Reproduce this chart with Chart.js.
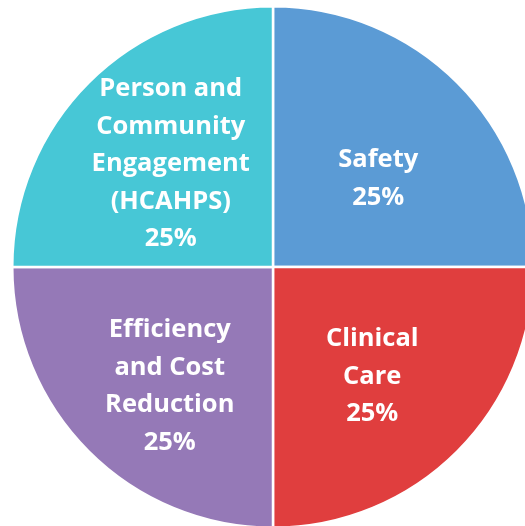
<!DOCTYPE html>
<html>
<head>
<meta charset="utf-8">
<script src="https://cdn.jsdelivr.net/npm/chart.js@4.4.1/dist/chart.umd.min.js"></script>
<style>
  html, body { margin: 0; padding: 0; background: #ffffff; overflow: hidden; width: 525px; height: 526px; }
  #wrap { position: absolute; left: 0; top: 5px; width: 546px; height: 524px; }
</style>
</head>
<body>
<div id="wrap"><canvas id="c"></canvas></div>
<script>
const categories = ["Safety", "Clinical Care", "Efficiency and Cost Reduction", "Person and Community Engagement (HCAHPS)"];
const labelLines = [
  ["Safety", "25%"],
  ["Clinical", "Care", "25%"],
  ["Efficiency", "and Cost", "Reduction", "25%"],
  ["Person and", "Community", "Engagement", "(HCAHPS)", "25%"]
];
const values = [25, 25, 25, 25];
const colors = ["#5B9BD5", "#E03E3E", "#9579B7", "#47C7D6"];
// label nudges (style only)
const labelNudge = [[2, 15], [-4, 6], [0, 16], [1, 0]];

const labelPlugin = {
  id: 'sliceLabels',
  afterDatasetsDraw(chart) {
    const ctx = chart.ctx;
    const meta = chart.getDatasetMeta(0);
    ctx.save();
    ctx.fillStyle = '#ffffff';
    ctx.font = 'bold 25.5px "Open Sans", Lato, sans-serif';
    ctx.textAlign = 'center';
    ctx.textBaseline = 'middle';
    const lh = 37.5;
    meta.data.forEach((arc, i) => {
      const p = arc.getProps(['x', 'y', 'startAngle', 'endAngle', 'outerRadius'], true);
      const mid = (p.startAngle + p.endAngle) / 2;
      const r = p.outerRadius * 0.56;
      const cx = p.x + Math.cos(mid) * r + labelNudge[i][0];
      const cy = p.y + Math.sin(mid) * r + labelNudge[i][1];
      const lines = labelLines[i];
      const y0 = cy - (lines.length - 1) * lh / 2;
      lines.forEach((t, j) => ctx.fillText(t, cx, y0 + j * lh));
    });
    ctx.restore();
  }
};

new Chart(document.getElementById('c'), {
  type: 'pie',
  data: {
    labels: categories,
    datasets: [{
      data: values,
      backgroundColor: colors,
      borderColor: '#ffffff',
      borderWidth: 2.5
    }]
  },
  options: {
    responsive: true,
    maintainAspectRatio: false,
    animation: false,
    layout: { padding: 0 },
    plugins: { legend: { display: false }, tooltip: { enabled: false } }
  },
  plugins: [labelPlugin]
});
</script>
</body>
</html>
